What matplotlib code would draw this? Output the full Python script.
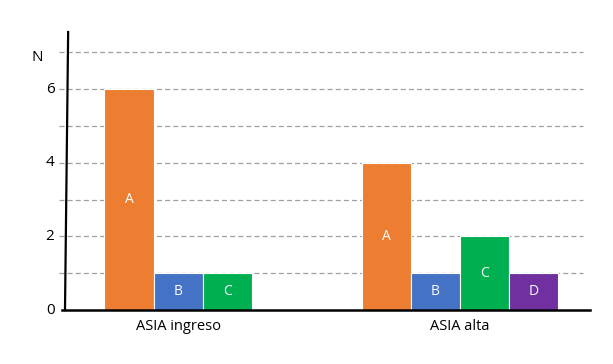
import matplotlib.pyplot as plt
from matplotlib.lines import Line2D

plt.rcParams['font.family'] = ['Open Sans', 'DejaVu Sans']

categories = ['ASIA ingreso', 'ASIA alta']
series = ['A', 'B', 'C', 'D']
values = {
    'A': [6, 4],
    'B': [1, 1],
    'C': [1, 2],
    'D': [None, 1],
}
colors = {'A': '#ED7D31', 'B': '#4472C4', 'C': '#00B050', 'D': '#7030A0'}
yticks = [0, 2, 4, 6]

fig = plt.figure(figsize=(6.13, 3.64), dpi=100)
ax = fig.add_axes([65 / 613, 54 / 364, 525 / 613, 278 / 364])

width = 0.174
for gi, cat in enumerate(categories):
    present = [s for s in series if values[s][gi] is not None]
    n = len(present)
    for k, s in enumerate(present):
        x = gi + (k - (n - 1) / 2) * width
        v = values[s][gi]
        ax.bar(x, v, width, color=colors[s], edgecolor='white', linewidth=0.8, zorder=3)
        ax.text(x, v / 2, s, color='white', ha='center', va='center', fontsize=10, zorder=4)

ax.set_xlim(-0.401, 1.461)
ax.set_ylim(0, 7.55)

# dashed gridlines
for g in range(1, 8):
    ax.plot([-0.012, 0.987], [g, g], transform=ax.get_yaxis_transform(),
            color='#A0A0A0', ls=(0, (4, 2.5)), lw=0.9, clip_on=False, zorder=1)

for sp in ax.spines.values():
    sp.set_visible(False)
ax.set_xticks([])
ax.set_yticks([])

# axis lines (y axis drawn slightly slanted, as in the original)
ax.add_line(Line2D([0, 0.006], [0, 1.0], transform=ax.transAxes, color='black',
                   lw=1.6, clip_on=False, zorder=5))
ax.add_line(Line2D([-0.006, 1.0], [0, 0], transform=ax.transAxes, color='black',
                   lw=1.8, clip_on=False, zorder=5))

for t in yticks:
    ax.text(-0.02, t, str(t), transform=ax.get_yaxis_transform(),
            ha='right', va='center', fontsize=11)
ax.text(-0.042, 6.85, 'N', transform=ax.get_yaxis_transform(),
        ha='right', va='center', fontsize=11)

for gi, cat in enumerate(categories):
    ax.text(gi, -0.45, cat, ha='center', va='center', fontsize=10.5)

fig.savefig('out.png', dpi=100)
